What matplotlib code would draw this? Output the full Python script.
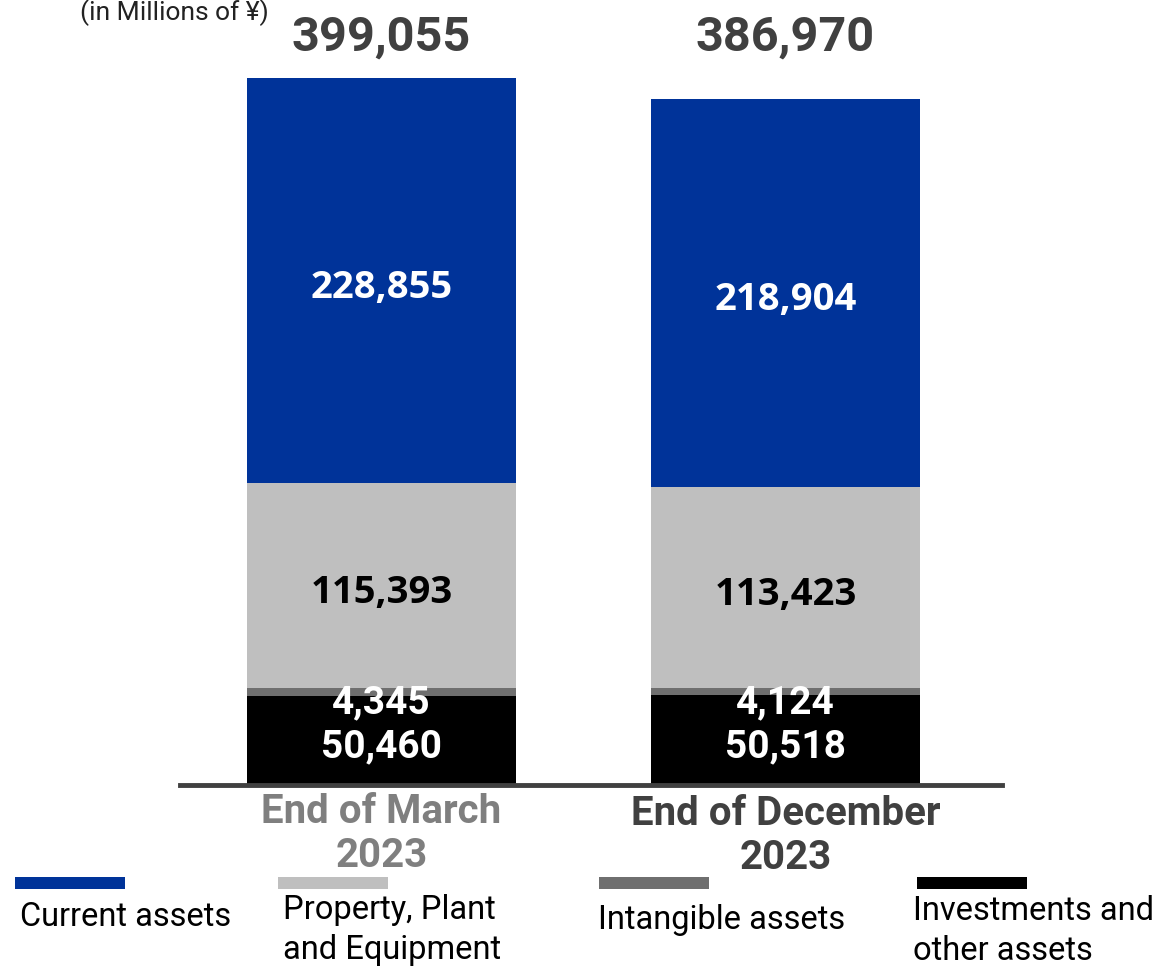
import matplotlib
matplotlib.use("Agg")
import matplotlib.pyplot as plt
from matplotlib.patches import Rectangle

# data (in millions of yen)
periods = ["End of March\n2023", "End of December\n2023"]
segments = ["Investments and\nother assets", "Intangible assets",
            "Property, Plant\nand Equipment", "Current assets"]
investments = [50460, 50518]
intangible = [4345, 4124]
ppe = [115393, 113423]
current = [228855, 218904]
totals = [399055, 386970]

seg_colors = ["#000000", "#6f6f6f", "#bfbfbf", "#003399"]
label_colors = ["white", "white", "black", "white"]
period_colors = ["#7f7f7f", "#404040"]

W, H = 1160, 968
fig = plt.figure(figsize=(W / 100, H / 100), dpi=100)

# axes box in pixels: left 180, right 1002, baseline at 785
ymax = 420000
px_per_unit = 707 / 399055
top_px = 785 - ymax * px_per_unit
ax = fig.add_axes([180 / W, (H - 785) / H, 822 / W, (785 - top_px) / H])

x = [0, 1]
bw = 0.666
series = [investments, intangible, ppe, current]
bottoms = [0, 0]
for vals, col, lc, name in zip(series, seg_colors, label_colors, segments):
    ax.bar(x, vals, bw, bottom=bottoms, color=col, linewidth=0, zorder=2)
    for i in range(2):
        yc = bottoms[i] + vals[i] / 2
        if vals is intangible:
            yc -= 2200
        if vals in (current, ppe):
            fp = dict(family="Open Sans", size=27.5)
        else:
            fp = dict(family="Roboto", size=28)
        ax.annotate(f"{vals[i]:,}", xy=(x[i], yc), xytext=(0, -5),
                    textcoords="offset points", ha="center", va="center",
                    color=lc, fontweight="bold", zorder=4, **fp)
    bottoms = [b + v for b, v in zip(bottoms, vals)]

# totals above bars, both on the same line
ytot = (785 - 38) / px_per_unit
for i in range(2):
    ax.text(x[i], ytot, f"{totals[i]:,}", ha="center", va="center",
            color="#404040", fontsize=35, fontweight="bold", family="Roboto",
            clip_on=False)

ax.set_xlim(-0.499, 1.536)
ax.set_ylim(0, ymax)
ax.axis("off")
ax.axhline(0, color="#404040", linewidth=3.5, zorder=3, clip_on=False)

# category labels under the baseline
for i in range(2):
    ax.annotate(periods[i], xy=(x[i], 0), xytext=(0, -6 - 1.5 * i),
                textcoords="offset points", ha="center", va="top",
                color=period_colors[i], fontsize=29, fontweight="bold",
                family="Roboto", linespacing=1.18, annotation_clip=False)

fig.text(80 / W, 1 - 13 / H, "(in Millions of ¥)", ha="left", va="center",
         fontsize=19, family="Roboto", color="#222222")

# legend: swatch with label underneath
leg_order = ["Current assets", "Property, Plant\nand Equipment",
             "Intangible assets", "Investments and\nother assets"]
leg_colors = ["#003399", "#bfbfbf", "#6f6f6f", "#000000"]
sw_x = [15, 278, 599, 917]
tx_x = [20, 283, 598, 913]
tx_y = [917, 930, 920, 931]
for name, col, sx, tx, ty in zip(leg_order, leg_colors, sw_x, tx_x, tx_y):
    fig.add_artist(Rectangle((sx / W, 1 - 889 / H), 110 / W, 12 / H,
                             transform=fig.transFigure, color=col, lw=0))
    fig.text(tx / W, 1 - ty / H, name, ha="left", va="center",
             fontsize=23.5, family="Roboto", color="#000000",
             linespacing=1.3)

fig.savefig("out.png", dpi=100, facecolor="white")
